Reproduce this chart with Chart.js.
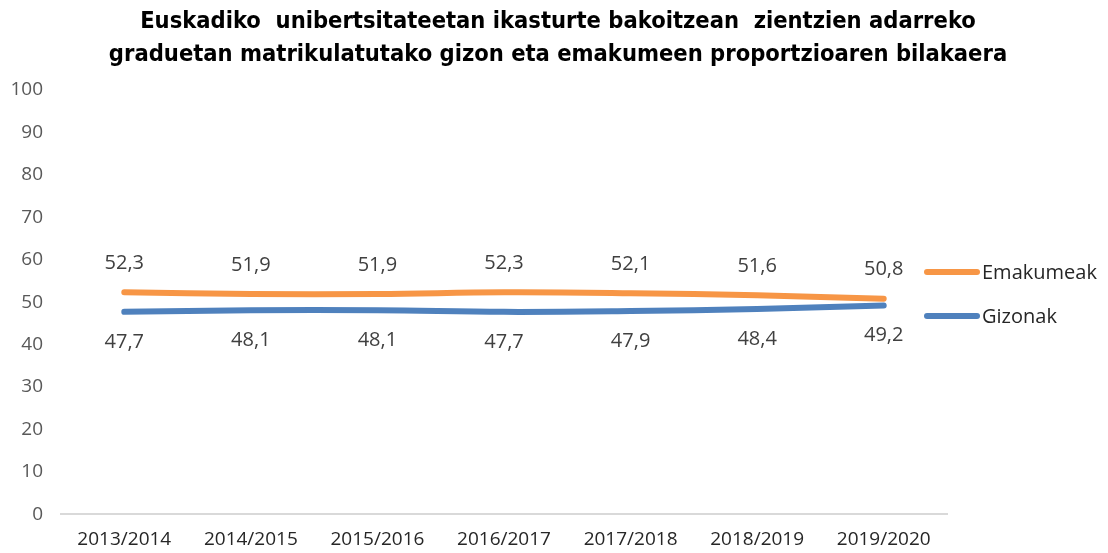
<!DOCTYPE html>
<html>
<head>
<meta charset="utf-8">
<script src="https://cdn.jsdelivr.net/npm/chart.js@4/dist/chart.umd.min.js"></script>
<style>
  html, body { margin: 0; padding: 0; background: #fff; }
  #wrap { width: 1108px; height: 553px; }
</style>
</head>
<body>
<div id="wrap"><canvas id="c" width="1108" height="553"></canvas></div>
<script>
// ── Data ──────────────────────────────────────
const years     = ['2013/2014', '2014/2015', '2015/2016', '2016/2017', '2017/2018', '2018/2019', '2019/2020'];
const emakumeak = [52.3, 51.9, 51.9, 52.3, 52.1, 51.6, 50.8];
const gizonak   = [47.7, 48.1, 48.1, 47.7, 47.9, 48.4, 49.2];
const titleLines = [
  'Euskadiko  unibertsitateetan ikasturte bakoitzean  zientzien adarreko',
  'graduetan matrikulatutako gizon eta emakumeen proportzioaren bilakaera'
];

const ORANGE = '#F79646';
const BLUE   = '#4F81BD';
const FONT   = "'Open Sans', 'Noto Sans', sans-serif";

// ── Title centred on the whole canvas ─────────
const pageTitle = {
  id: 'pageTitle',
  afterDraw(chart) {
    const ctx = chart.ctx;
    ctx.save();
    ctx.font = "bold 23.5px 'DejaVu Sans Condensed', 'DejaVu Sans', sans-serif";
    ctx.fillStyle = '#000';
    ctx.textAlign = 'center';
    ctx.textBaseline = 'middle';
    titleLines.forEach((line, i) => ctx.fillText(line, chart.width / 2 + 4, 22 + i * 33));
    ctx.restore();
  }
};

// ── Value labels (comma decimals, above / below) ─
const valueLabels = {
  id: 'valueLabels',
  afterDatasetsDraw(chart) {
    const ctx = chart.ctx;
    ctx.save();
    ctx.font = '20px ' + FONT;
    ctx.fillStyle = '#404040';
    ctx.textAlign = 'center';
    ctx.textBaseline = 'middle';
    chart.data.datasets.forEach((ds, i) => {
      const meta = chart.getDatasetMeta(i);
      const shift = ds.labelSide === 'above' ? -29 : 30;
      meta.data.forEach((pt, j) => {
        ctx.fillText(ds.data[j].toFixed(1).replace('.', ','), pt.x, pt.y + shift);
      });
    });
    ctx.restore();
  }
};

// ── Legend on the right ───────────────────────
const sideLegend = {
  id: 'sideLegend',
  afterDraw(chart) {
    const ctx = chart.ctx;
    const area = chart.chartArea;
    const x0 = area.right - 20;
    ctx.save();
    ctx.font = '20px ' + FONT;
    ctx.textBaseline = 'middle';
    chart.data.datasets.forEach((ds, i) => {
      const y = 272 + i * 44;
      ctx.strokeStyle = ds.borderColor;
      ctx.lineWidth = 6;
      ctx.lineCap = 'round';
      ctx.beginPath();
      ctx.moveTo(x0, y);
      ctx.lineTo(x0 + 50, y);
      ctx.stroke();
      ctx.fillStyle = '#262626';
      ctx.fillText(ds.label, x0 + 55, y + 1);
    });
    ctx.restore();
  }
};

new Chart(document.getElementById('c'), {
  type: 'line',
  data: {
    labels: years,
    datasets: [
      {
        label: 'Emakumeak',
        data: emakumeak,
        borderColor: ORANGE,
        backgroundColor: ORANGE,
        borderWidth: 6,
        borderCapStyle: 'round',
        pointRadius: 0,
        tension: 0.4,
        labelSide: 'above',
      },
      {
        label: 'Gizonak',
        data: gizonak,
        borderColor: BLUE,
        backgroundColor: BLUE,
        borderWidth: 6,
        borderCapStyle: 'round',
        pointRadius: 0,
        tension: 0.4,
        labelSide: 'below',
      },
    ],
  },
  options: {
    responsive: false,
    animation: false,
    layout: { padding: { left: 0, right: 161, top: 90, bottom: -12 } },
    plugins: {
      legend: { display: false },
      tooltip: { enabled: false },
      title: { display: false },
    },
    scales: {
      x: {
        offset: true,
        grid: { display: false, drawTicks: false },
        border: { display: true, color: '#d9d9d9', width: 2 },
        ticks: { font: { family: FONT, size: 19 }, color: '#262626', padding: 14 },
      },
      y: {
        min: 0,
        max: 100,
        afterFit(scale) { scale.width = 61; },
        grid: { display: false, drawTicks: false },
        border: { display: false },
        ticks: { stepSize: 10, font: { family: FONT, size: 19 }, color: '#595959', padding: 18 },
      },
    },
  },
  plugins: [valueLabels, sideLegend, pageTitle],
});
</script>
</body>
</html>
